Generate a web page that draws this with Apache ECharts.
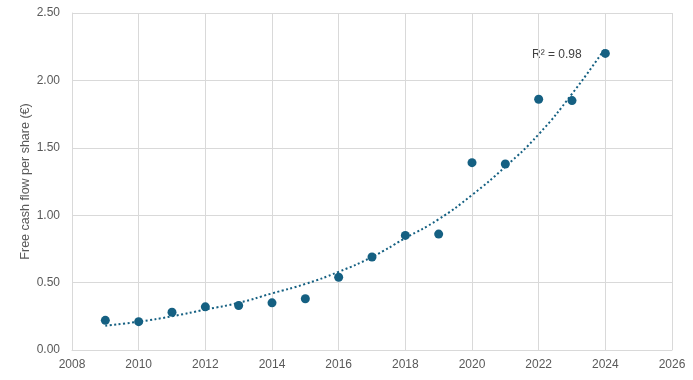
<!DOCTYPE html>
<html><head><meta charset="utf-8">
<script src="https://cdn.jsdelivr.net/npm/echarts@6/dist/echarts.min.js"></script>
<style>html,body{margin:0;padding:0;background:#fff}#c{width:693px;height:380px}</style>
</head><body><div id="c"></div>
<script>
var years = [2009,2010,2011,2012,2013,2014,2015,2016,2017,2018,2019,2020,2021,2022,2023,2024];
var fcfPerShare = [0.22,0.21,0.28,0.32,0.33,0.35,0.38,0.54,0.69,0.85,0.86,1.39,1.38,1.86,1.85,2.20];
var trendValues = [0.18,0.21,0.25,0.30,0.35,0.42,0.49,0.58,0.69,0.83,0.97,1.15,1.36,1.60,1.90,2.24];
var xTicks = [2008,2026,2];
var yTicks = [0,2.5,0.5];
var yTitle = 'Free cash flow per share (€)';
var r2Text = 'R² = 0.98';

var chart = echarts.init(document.getElementById('c'));
var fontFam = '"Liberation Sans", "DejaVu Sans", sans-serif';
chart.setOption({
  animation:false,
  grid:{left:72,right:21,top:13,bottom:30},
  xAxis:{type:'value',min:xTicks[0],max:xTicks[1],interval:xTicks[2],
    axisLine:{show:true,lineStyle:{color:'#d9d9d9',width:1}},
    axisTick:{show:false},
    axisLabel:{color:'#595959',fontSize:12,fontFamily:fontFam,margin:9,formatter:function(v){return String(v);}},
    splitLine:{show:true,lineStyle:{color:'#d9d9d9',width:1}}},
  yAxis:{type:'value',min:yTicks[0],max:yTicks[1],interval:yTicks[2],
    name:yTitle,nameLocation:'middle',nameGap:40,nameMoveOverlap:false,
    nameTextStyle:{color:'#595959',fontSize:12.5,fontFamily:fontFam},
    axisLine:{show:true,lineStyle:{color:'#d9d9d9',width:1}},
    axisTick:{show:false},
    axisLabel:{color:'#595959',fontSize:12,fontFamily:fontFam,margin:12,formatter:function(v){return v.toFixed(2);}},
    splitLine:{show:true,lineStyle:{color:'#d9d9d9',width:1}}},
  series:[
    {type:'line',data:years.map(function(y,i){return [y,trendValues[i]];}),smooth:true,showSymbol:false,
      lineStyle:{color:'#156082',width:2,type:[2,2.5],cap:'butt'},z:2},
    {type:'scatter',data:years.map(function(y,i){return [y,fcfPerShare[i]];}),symbolSize:9,
      itemStyle:{color:'#156082',opacity:1},z:3}
  ],
  graphic:[{type:'text',left:532,top:49,style:{
    text:r2Text,fontSize:12,fontFamily:fontFam,fill:'#404040'}}]
});
</script></body></html>
